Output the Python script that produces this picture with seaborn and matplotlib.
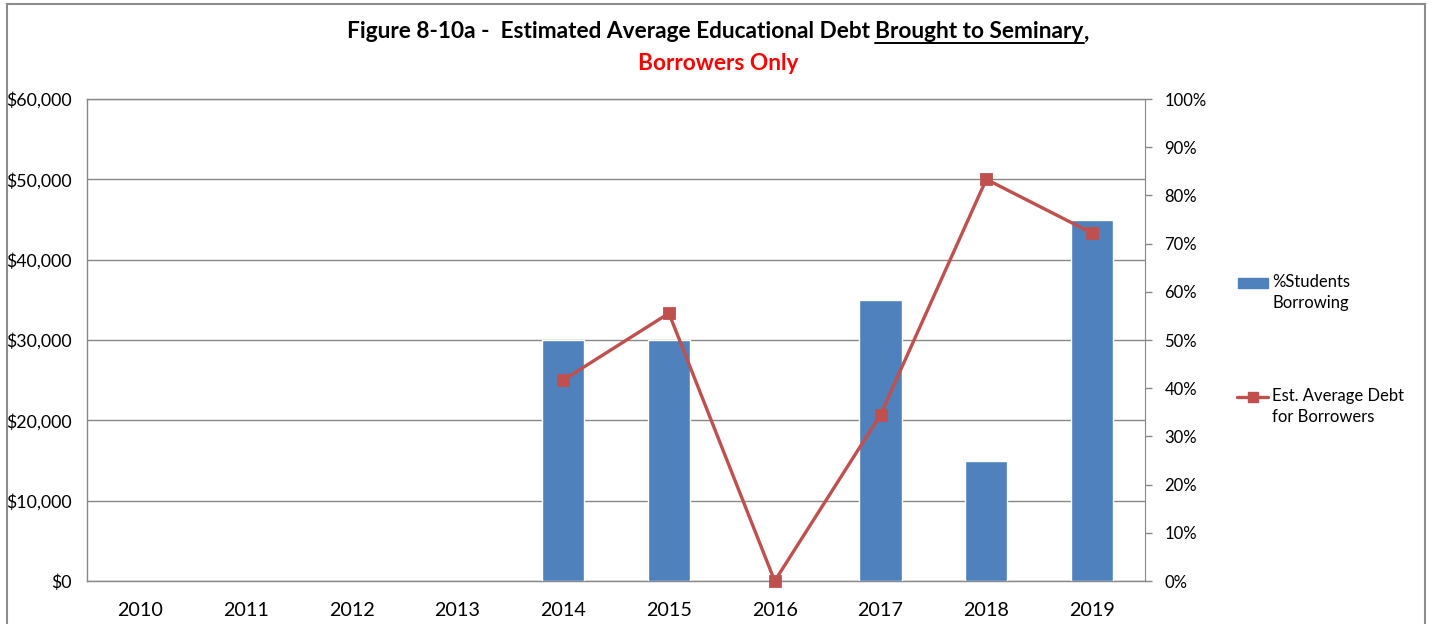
import numpy as np
import pandas as pd
import matplotlib
matplotlib.use("Agg")
import matplotlib.pyplot as plt
from matplotlib.patches import Rectangle
from matplotlib.lines import Line2D
import seaborn as sns

# data
years = ['2010', '2011', '2012', '2013', '2014', '2015', '2016', '2017', '2018', '2019']
pct_years = ['2014', '2015', '2017', '2018', '2019']
pct_borrowing = [50, 50, 58.3, 25, 75]
debt_years = ['2014', '2015', '2016', '2017', '2018', '2019']
avg_debt = [25000, 33333, 0, 20700, 50000, 43300]

dollar_ticks = [0, 10000, 20000, 30000, 40000, 50000, 60000]
pct_ticks = [0, 10, 20, 30, 40, 50, 60, 70, 80, 90, 100]

BLUE = '#4F81BD'
RED = '#C0504D'
GRID = '#888888'

sns.set_style('white')
plt.rcParams['font.family'] = ['Lato', 'DejaVu Sans']
plt.rcParams['text.color'] = 'black'
plt.rcParams['xtick.labelcolor'] = 'black'
plt.rcParams['ytick.labelcolor'] = 'black'

df_bars = pd.DataFrame({'year': pct_years, 'pct': pct_borrowing})
df_line = pd.DataFrame({'year': debt_years, 'debt': avg_debt})

W, H = 1434, 624
fig = plt.figure(figsize=(W / 100, H / 100), dpi=100)
left, right, top, bottom = 87, 1145, 99, 581
ax = fig.add_axes([left / W, 1 - bottom / H, (right - left) / W, (bottom - top) / H])
axp = ax.twinx()   # percent bars
axl = ax.twinx()   # debt line

# bars
sns.barplot(data=df_bars, x='year', y='pct', order=years, color=BLUE,
            saturation=1, width=0.4, ax=axp)
# line
sns.pointplot(data=df_line, x='year', y='debt', order=years, color=RED,
              markers='s', errorbar=None, ax=axl)
for ln in axl.lines:
    ln.set_linewidth(2.4)
    ln.set_markersize(7.5)
    ln.set_clip_on(False)
for coll in axl.collections:
    coll.set_clip_on(False)

# left dollar axis with grid
ax.set_ylim(0, 60000)
ax.set_yticks(dollar_ticks)
ax.set_yticklabels(['${:,}'.format(v) for v in dollar_ticks])
ax.yaxis.grid(True, color=GRID, lw=1)
ax.tick_params(axis='y', length=0, pad=11, labelsize=12.8, labelcolor='black')
for s in ['left', 'bottom', 'top']:
    ax.spines[s].set_color(GRID)
    ax.spines[s].set_linewidth(1)
ax.spines['right'].set_visible(False)

# right percent axis
axp.set_ylim(0, 100)
axp.set_yticks(pct_ticks)
axp.set_yticklabels(['{}%'.format(v) for v in pct_ticks])
axp.tick_params(axis='y', length=5, width=1, color=GRID, pad=9, labelsize=12,
                labelcolor='black')
for s in ['left', 'bottom', 'top']:
    axp.spines[s].set_visible(False)
axp.spines['right'].set_color(GRID)
axp.set_ylabel('')

axl.set_ylim(0, 60000)
axl.yaxis.set_visible(False)
for s in axl.spines.values():
    s.set_visible(False)
axl.set_ylabel('')

ax.set_xlim(-0.5, len(years) - 0.5)
ax.set_xticks(range(len(years)))
ax.set_xticklabels(years)
ax.tick_params(axis='x', length=0, pad=15, labelsize=14.2, labelcolor='black')
ax.set_xlabel('')
axp.set_xlabel('')
axl.set_xlabel('')

# outer chart border
fig.patches.append(Rectangle((7 / W, -0.05), (1425 - 7) / W, 1.05 - 4 / H,
                             transform=fig.transFigure, fill=False,
                             edgecolor='#8c8c8c', lw=1.5))

# title with underlined part
parts = ['Figure 8-10a -  Estimated Average Educational Debt ', 'Brought to Seminary', ',']
ty = 1 - 32 / H
texts = [fig.text(0, ty, p, fontsize=16.3, fontweight='bold', va='center', ha='left',
                  color='black')
         for p in parts]
fig.canvas.draw()
r = fig.canvas.get_renderer()
widths = [t.get_window_extent(r).width for t in texts]
x0 = 718 - sum(widths) / 2
for t, w in zip(texts, widths):
    t.set_x(x0 / W)
    if t.get_text() == parts[1]:
        ul_y = 1 - 43 / H
        fig.add_artist(Line2D([x0 / W, (x0 + w) / W], [ul_y, ul_y],
                              transform=fig.transFigure, color='black', lw=1.4))
    x0 += w
fig.text(718 / W, 1 - 63 / H, 'Borrowers Only', fontsize=16.3, fontweight='bold',
         color='#FF0000', ha='center', va='center')

# legend, drawn Excel-style (handle aligned with first text line)
fig.patches.append(Rectangle((1238 / W, 1 - 288 / H), 30 / W, 10 / H,
                             transform=fig.transFigure, color=BLUE))
fig.text(1272 / W, 1 - 274 / H, '%Students\nBorrowing', fontsize=12,
         ha='left', va='top', linespacing=1.35, color='black')
fig.add_artist(Line2D([1237 / W, 1268 / W], [1 - 397 / H, 1 - 397 / H],
                      transform=fig.transFigure, color=RED, lw=2.4))
fig.add_artist(Line2D([1252.5 / W], [1 - 397 / H], transform=fig.transFigure,
                      color=RED, marker='s', markersize=7.5, lw=0))
fig.text(1272 / W, 1 - 388 / H, 'Est. Average Debt\nfor Borrowers', fontsize=12,
         ha='left', va='top', linespacing=1.35, color='black')

fig.savefig('out.png', dpi=100)
